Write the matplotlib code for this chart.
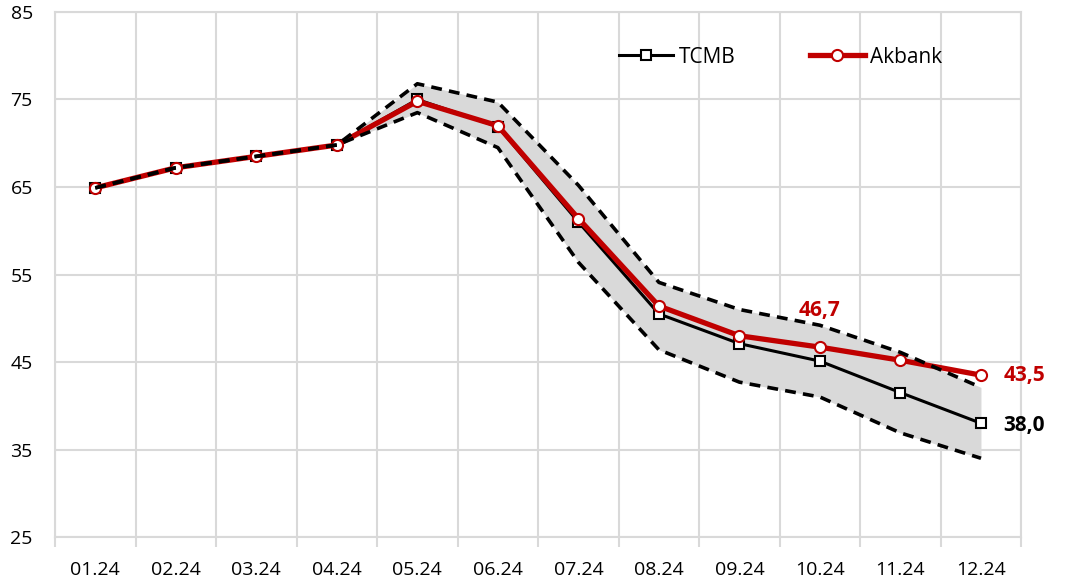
import matplotlib.pyplot as plt
import numpy as np

plt.rcParams['font.family'] = ['Open Sans', 'DejaVu Sans']

months = ["01.24", "02.24", "03.24", "04.24", "05.24", "06.24",
          "07.24", "08.24", "09.24", "10.24", "11.24", "12.24"]
tcmb = [64.9, 67.2, 68.5, 69.8, 75.0, 71.9, 61.0, 50.5, 47.1, 45.1, 41.5, 38.0]
akbank = [64.9, 67.2, 68.5, 69.8, 74.8, 72.0, 61.4, 51.4, 48.0, 46.7, 45.2, 43.5]
upper = [64.9, 67.2, 68.5, 69.8, 76.8, 74.7, 65.2, 54.1, 51.0, 49.2, 46.1, 42.1]
lower = [64.9, 67.2, 68.5, 69.8, 73.5, 69.5, 56.4, 46.4, 42.7, 41.0, 36.9, 34.0]

red = "#c00000"
grid = "#d9d9d9"

fig = plt.figure(figsize=(10.66, 5.88), dpi=100)
ax = fig.add_axes([0.0516, 0.0867, 0.9064, 0.8929])
x = np.arange(len(months))

# band between the dashed bounds
ax.fill_between(x, lower, upper, color="#d9d9d9", lw=0, zorder=1)
ax.plot(x, tcmb, color="black", lw=2.2, marker="s", ms=7, mfc="white",
        mec="black", mew=1.5, zorder=3, label="TCMB")
ax.plot(x, akbank, color=red, lw=3.8, marker="o", ms=8, mfc="white",
        mec=red, mew=1.5, zorder=4, label="Akbank")
ax.plot(x, upper, color="black", lw=2.6, ls=(0, (3, 2)), zorder=5)
ax.plot(x, lower, color="black", lw=2.6, ls=(0, (3, 2)), zorder=5)

# value labels
ax.text(x[9], akbank[9] + 4.2, "46,7", color=red, fontsize=15,
        fontweight="bold", ha="center", va="center", zorder=6)
ax.text(x[11] + 0.28, akbank[11], "43,5", color=red, fontsize=15,
        fontweight="bold", ha="left", va="center", clip_on=False)
ax.text(x[11] + 0.28, tcmb[11] - 0.3, "38,0", color="black", fontsize=15,
        fontweight="bold", ha="left", va="center", clip_on=False)

ax.set_xlim(-0.5, len(months) - 0.5)
ax.set_ylim(25, 85)
ax.set_yticks(np.arange(25, 86, 10))
ax.set_xticks(x)
ax.set_xticklabels(months)
ax.set_xticks(np.arange(-0.5, len(months), 1), minor=True)
ax.tick_params(axis="x", which="major", length=0, pad=17, labelsize=14)
ax.tick_params(axis="x", which="minor", length=7, color=grid, width=1.5)
ax.tick_params(axis="y", length=0, pad=16, labelsize=14)

ax.grid(True, which="minor", axis="x", color=grid, lw=1.5, zorder=0)
ax.grid(True, which="major", axis="y", color=grid, lw=1.5, zorder=0)
ax.set_axisbelow(True)
for s in ax.spines.values():
    s.set_color(grid)
    s.set_linewidth(1.5)

ax.legend(loc="center left", bbox_to_anchor=(0.584, 0.914), ncol=2, frameon=False,
          fontsize=15, handlelength=2.6, columnspacing=3.6, handletextpad=0.25,
          borderpad=0, borderaxespad=0)

fig.savefig("out.png", dpi=100)
